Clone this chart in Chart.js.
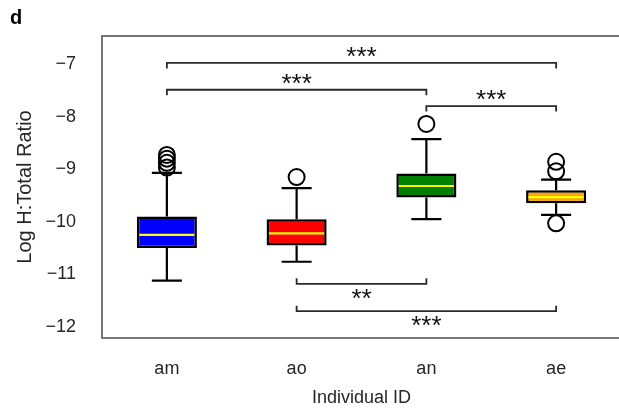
<!DOCTYPE html>
<html>
<head>
<meta charset="utf-8">
<title>Log H:Total Ratio by individual</title>
<script src="https://cdn.jsdelivr.net/npm/chart.js@4.4.0/dist/chart.umd.min.js"></script>
<style>
  html, body { margin: 0; padding: 0; background: #fff; overflow: hidden; }
  #ratioChart { display: block; }
</style>
</head>
<body>
<canvas id="ratioChart" width="624" height="408"></canvas>
<script>
// box plot summaries per individual
const individuals = ['am', 'ao', 'an', 'ae'];
const boxColors = ['#0000ff', '#ff0000', '#008000', '#ffa500'];
const q1 = [-10.50, -10.45, -9.54, -9.65];
const q3 = [-9.90, -9.95, -9.08, -9.40];
const medians = [-10.25, -10.22, -9.32, -9.53];
const whiskerLow = [-11.12, -10.76, -9.95, -9.87];
const whiskerHigh = [-9.07, -9.36, -8.43, -9.20];
const outliers = [
  [-8.73, -8.80, -8.88, -8.97],
  [-9.15],
  [-8.14],
  [-8.86, -9.04, -10.03]
];
const yTicks = [-7, -8, -9, -10, -11, -12];

// significance brackets between pairs
const bracketFrom = ['am', 'am', 'an', 'ao', 'ao'];
const bracketTo = ['ae', 'an', 'ae', 'an', 'ae'];
const bracketLevel = [-6.98, -7.49, -7.80, -11.18, -11.70];
const bracketStars = ['***', '***', '***', '**', '***'];
const bracketAbove = [true, true, true, false, false];

const FONT = '"Liberation Sans", Arial, sans-serif';
const TEXT = '#262626';

const outlierPoints = [];
outliers.forEach((vals, i) => vals.forEach(v => outlierPoints.push({ x: individuals[i], y: v })));

const boxExtras = {
  id: 'boxExtras',
  afterDatasetsDraw(chart) {
    const ctx = chart.ctx;
    const y = chart.scales.y;
    const bars = chart.getDatasetMeta(0).data;
    ctx.save();
    bars.forEach((bar, i) => {
      const cx = bar.x;
      const half = bar.width / 2;
      const cap = bar.width / 4;
      // whiskers and caps
      ctx.strokeStyle = '#000';
      ctx.lineWidth = 2.2;
      ctx.beginPath();
      ctx.moveTo(cx, y.getPixelForValue(q3[i]));
      ctx.lineTo(cx, y.getPixelForValue(whiskerHigh[i]));
      ctx.moveTo(cx, y.getPixelForValue(q1[i]));
      ctx.lineTo(cx, y.getPixelForValue(whiskerLow[i]));
      ctx.moveTo(cx - cap, y.getPixelForValue(whiskerHigh[i]));
      ctx.lineTo(cx + cap, y.getPixelForValue(whiskerHigh[i]));
      ctx.moveTo(cx - cap, y.getPixelForValue(whiskerLow[i]));
      ctx.lineTo(cx + cap, y.getPixelForValue(whiskerLow[i]));
      ctx.stroke();
      // median
      ctx.strokeStyle = '#ffff00';
      ctx.lineWidth = 2.2;
      ctx.beginPath();
      ctx.moveTo(cx - half + 2.5, y.getPixelForValue(medians[i]));
      ctx.lineTo(cx + half - 2.5, y.getPixelForValue(medians[i]));
      ctx.stroke();
    });
    ctx.restore();
  },
  afterDraw(chart) {
    const ctx = chart.ctx;
    const x = chart.scales.x;
    const y = chart.scales.y;
    const area = chart.chartArea;
    ctx.save();
    // frame
    ctx.strokeStyle = '#555';
    ctx.lineWidth = 1.6;
    ctx.strokeRect(area.left, area.top, area.right - area.left, area.bottom - area.top);

    // brackets + stars
    ctx.strokeStyle = '#2a2a2a';
    ctx.lineWidth = 1.8;
    ctx.fillStyle = '#111';
    ctx.font = '26px ' + FONT;
    ctx.textAlign = 'center';
    ctx.textBaseline = 'alphabetic';
    bracketFrom.forEach((from, k) => {
      const x1 = x.getPixelForValue(individuals.indexOf(from));
      const x2 = x.getPixelForValue(individuals.indexOf(bracketTo[k]));
      const py = y.getPixelForValue(bracketLevel[k]);
      const tick = bracketAbove[k] ? 5.5 : -5.5;
      ctx.beginPath();
      ctx.moveTo(x1, py + tick);
      ctx.lineTo(x1, py);
      ctx.lineTo(x2, py);
      ctx.lineTo(x2, py + tick);
      ctx.stroke();
      ctx.fillText(bracketStars[k], (x1 + x2) / 2, bracketAbove[k] ? py + 2 : py + 23);
    });

    // panel letter
    ctx.fillStyle = '#000';
    ctx.font = 'bold 20px ' + FONT;
    ctx.textAlign = 'left';
    ctx.fillText('d', 10, 24);
    ctx.restore();
  }
};

new Chart(document.getElementById('ratioChart'), {
  type: 'bar',
  data: {
    labels: individuals,
    datasets: [{
      data: q1.map((v, i) => [v, q3[i]]),
      backgroundColor: boxColors,
      borderColor: '#000',
      borderWidth: 2.5,
      borderSkipped: false,
      barPercentage: 0.463,
      categoryPercentage: 1
    }, {
      type: 'line',
      data: outlierPoints,
      showLine: false,
      pointStyle: 'circle',
      pointRadius: 8,
      pointBorderWidth: 2,
      pointBorderColor: '#000',
      pointBackgroundColor: 'rgba(0,0,0,0)'
    }]
  },
  options: {
    responsive: false,
    animation: false,
    layout: { autoPadding: false, padding: { top: 36, right: 3, left: 0, bottom: 0 } },
    plugins: { legend: { display: false }, tooltip: { enabled: false } },
    scales: {
      x: {
        grid: { display: false, drawTicks: false },
        border: { display: false },
        ticks: { color: TEXT, font: { family: FONT, size: 18 }, padding: 20 },
        title: { display: true, text: 'Individual ID', color: TEXT, font: { family: FONT, size: 18, lineHeight: 1 }, padding: { bottom: 1 } },
        afterFit: s => { s.height = 70; s.paddingLeft = 0; s.paddingRight = 0; }
      },
      y: {
        min: -12.21,
        max: -6.468,
        grid: { display: false, drawTicks: false },
        border: { display: false },
        afterBuildTicks: s => { s.ticks = yTicks.map(v => ({ value: v })); },
        ticks: {
          color: TEXT,
          font: { family: FONT, size: 18 },
          padding: 26,
          callback: v => String(v).replace('-', '\u2212')
        },
        title: { display: true, text: 'Log H:Total Ratio', color: TEXT, font: { family: FONT, size: 20, lineHeight: 1 }, padding: { top: 15 } },
        afterFit: s => { s.width = 102; s.paddingTop = 0; s.paddingBottom = 0; }
      }
    }
  },
  plugins: [boxExtras]
});
</script>
</body>
</html>
